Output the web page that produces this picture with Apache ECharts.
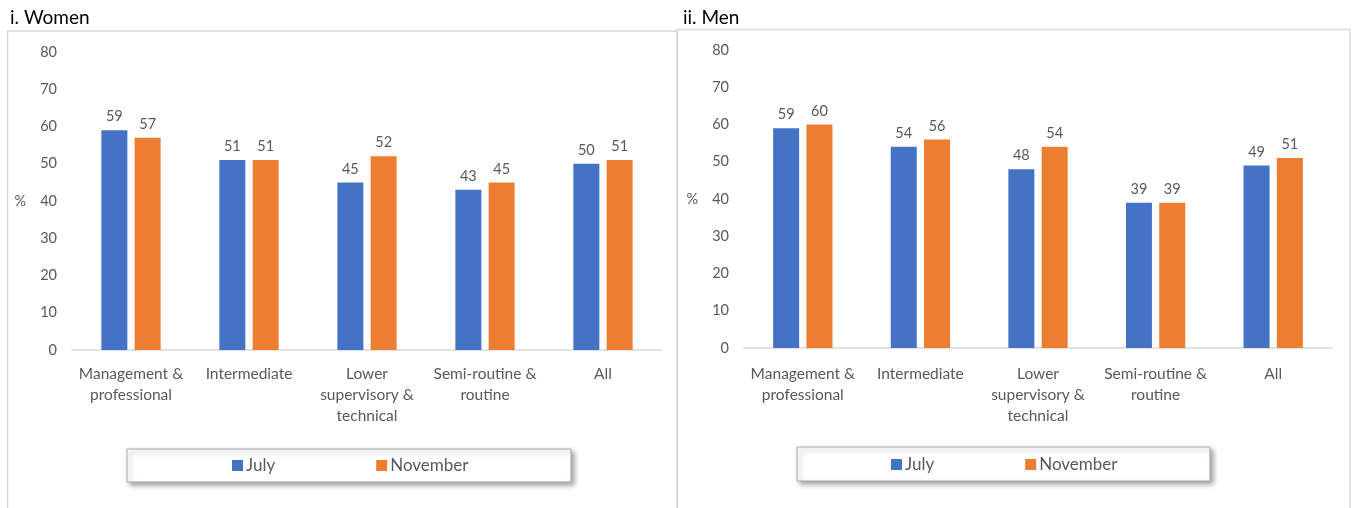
<!DOCTYPE html>
<html>
<head>
<meta charset="utf-8">
<script src="https://cdn.jsdelivr.net/npm/echarts@6/dist/echarts.min.js"></script>
<style>
  html, body { margin: 0; padding: 0; background: #fff; }
  #chart { width: 1355px; height: 508px; }
</style>
</head>
<body>
<div id="chart"></div>
<script>
// Occupational classes shown on the x axis
const categories = [
  'Management &\nprofessional',
  'Intermediate',
  'Lower\nsupervisory &\ntechnical',
  'Semi-routine &\nroutine',
  'All'
];
const seriesNames = ['July', 'November'];

// Percentages by class, women
const womenJuly = [59, 51, 45, 43, 50];
const womenNovember = [57, 51, 52, 45, 51];

// Percentages by class, men
const menJuly = [59, 54, 48, 39, 49];
const menNovember = [60, 56, 54, 39, 51];

const panelTitles = ['i. Women', 'ii. Men'];
const yTicks = { min: 0, max: 80, interval: 10 };

const FONT = 'Lato, "Open Sans", sans-serif';
const TEXT = '#595959';
const BLUE = '#4472C4';
const ORANGE = '#ED7D31';

const chart = echarts.init(document.getElementById('chart'), null, { renderer: 'canvas' });

const grids = [
  { left: 72, top: 52, width: 590, height: 298 },
  { left: 744, top: 50, width: 588, height: 298 }
];

function xAxis(i, margin) {
  return {
    type: 'category',
    gridIndex: i,
    data: categories,
    axisLine: { show: true, lineStyle: { color: '#D9D9D9', width: 1.5 } },
    axisTick: { show: false },
    axisLabel: {
      color: TEXT, fontFamily: FONT, fontSize: 15.5, lineHeight: 21,
      margin: margin, interval: 0
    }
  };
}

function yAxis(i) {
  return {
    type: 'value',
    gridIndex: i,
    min: yTicks.min, max: yTicks.max, interval: yTicks.interval,
    name: '%',
    nameLocation: 'middle',
    nameRotate: 0,
    nameGap: 46,
    nameTextStyle: { color: TEXT, fontFamily: FONT, fontSize: 14.5 },
    axisLine: { show: false },
    axisTick: { show: false },
    splitLine: { show: false },
    axisLabel: { color: TEXT, fontFamily: FONT, fontSize: 14.5, margin: 15 }
  };
}

function bars(name, data, color, i) {
  return {
    type: 'bar',
    name: name,
    xAxisIndex: i,
    yAxisIndex: i,
    data: data,
    barWidth: 26,
    barGap: '28%',
    itemStyle: { color: color },
    label: {
      show: true, position: 'top', distance: 6,
      color: TEXT, fontFamily: FONT, fontSize: 14.5
    }
  };
}

function legend(left, top, gap) {
  return {
    data: seriesNames,
    left: left, top: top,
    orient: 'horizontal',
    icon: 'rect',
    itemWidth: 11, itemHeight: 11,
    itemGap: gap,
    padding: 0,
    selectedMode: false,
    textStyle: { color: TEXT, fontFamily: FONT, fontSize: 17, padding: [0, 0, 0, -2] }
  };
}

const legendBox = (x, y, w, h) => ({
  type: 'rect',
  shape: { x: x, y: y, width: w, height: h },
  style: {
    fill: '#fff', stroke: '#A6A6A6', lineWidth: 1,
    shadowBlur: 5, shadowOffsetX: 3, shadowOffsetY: 3, shadowColor: 'rgba(0,0,0,0.35)'
  },
  z: -1
});

chart.setOption({
  animation: false,
  backgroundColor: '#fff',
  grid: grids,
  xAxis: [xAxis(0, 13), xAxis(1, 15)],
  yAxis: [yAxis(0), yAxis(1)],
  legend: [legend(232, 457, 101), legend(891, 456, 91)],
  series: [
    bars(seriesNames[0], womenJuly, BLUE, 0),
    bars(seriesNames[1], womenNovember, ORANGE, 0),
    bars(seriesNames[0], menJuly, BLUE, 1),
    bars(seriesNames[1], menNovember, ORANGE, 1)
  ],
  graphic: [
    // panel frames
    { type: 'rect', shape: { x: 7.5, y: 31, width: 670, height: 490 },
      style: { fill: 'none', stroke: '#D9D9D9', lineWidth: 1.5 }, z: -2 },
    { type: 'rect', shape: { x: 677, y: 29.5, width: 673, height: 490 },
      style: { fill: 'none', stroke: '#D9D9D9', lineWidth: 1.5 }, z: -2 },
    // panel headings
    { type: 'text', left: 10, top: 8,
      style: { text: panelTitles[0], fill: '#000', font: '19px ' + FONT } },
    { type: 'text', left: 683, top: 8,
      style: { text: panelTitles[1], fill: '#000', font: '19px ' + FONT } },
    // legend frames
    legendBox(127, 449, 444, 33),
    legendBox(797, 447, 413, 34)
  ]
});
</script>
</body>
</html>
